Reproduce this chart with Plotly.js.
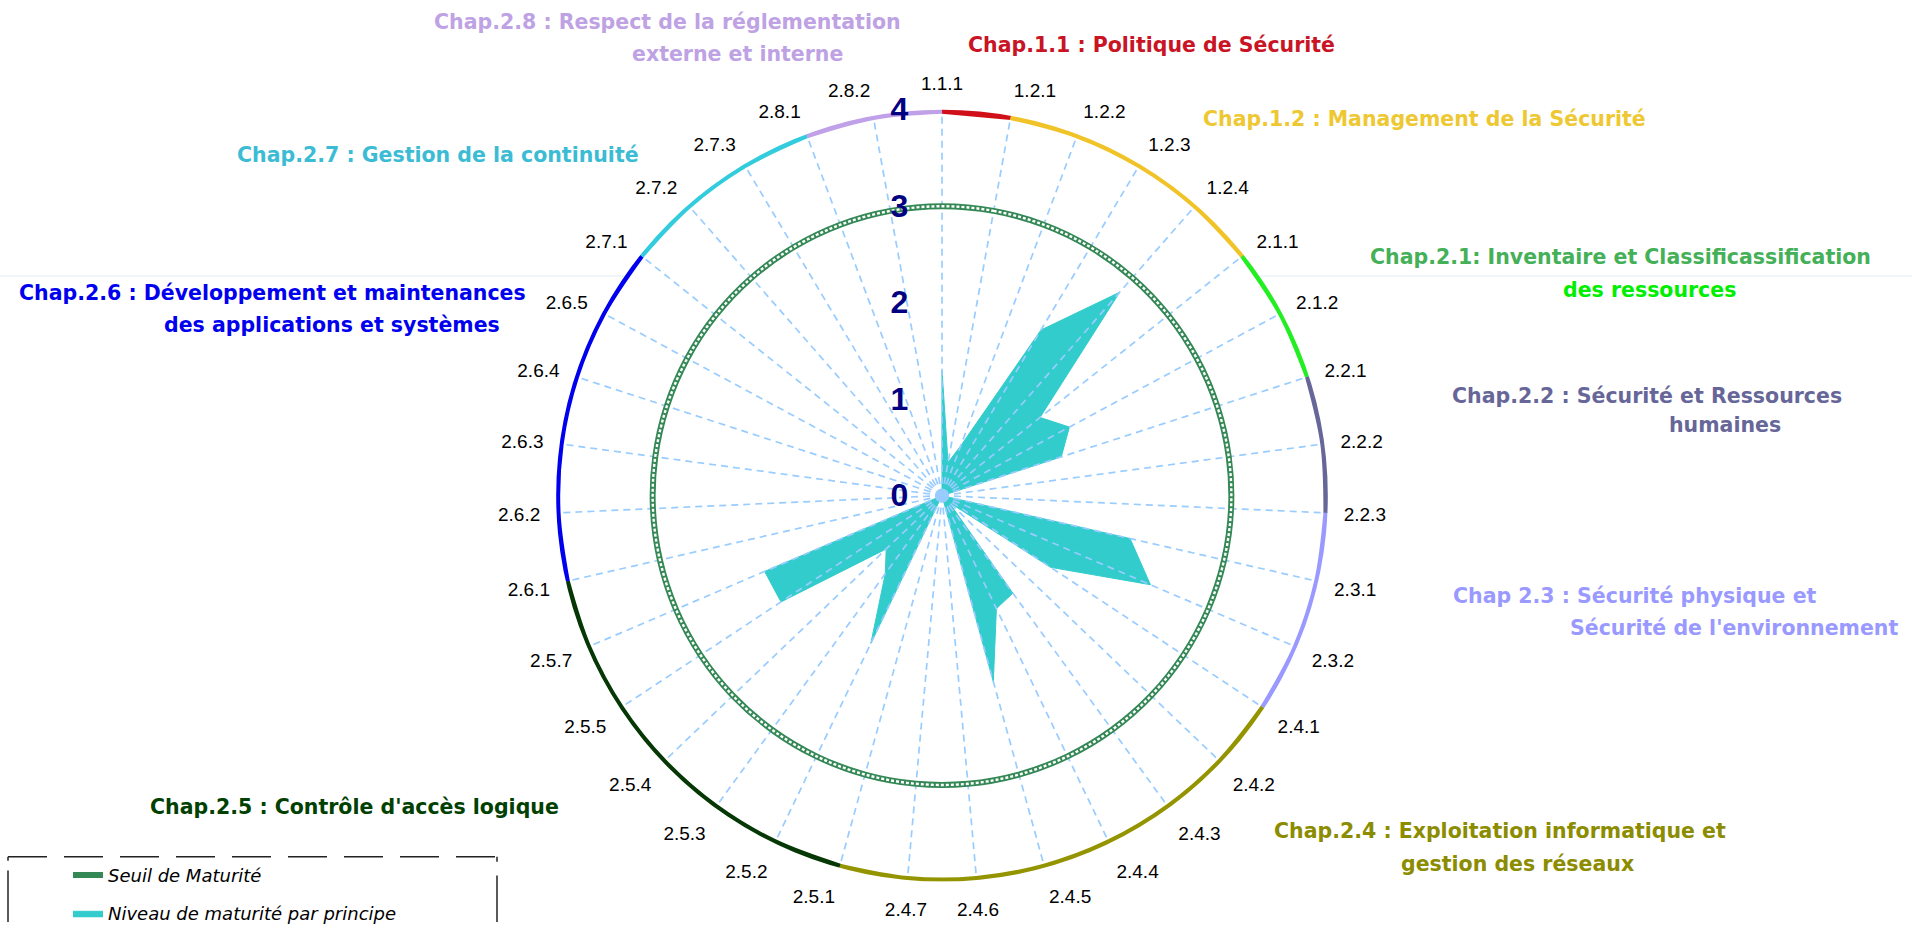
<!DOCTYPE html>
<html>
<head>
<meta charset="utf-8">
<script src="https://cdn.plot.ly/plotly-3.0.1.min.js"></script>
<style>
html,body{margin:0;padding:0;background:#ffffff;}
#chart{width:1912px;height:932px;}
</style>
</head>
<body>
<div id="chart"></div>
<script>
// ---------------- DATA ----------------
const categories = ['1.1.1','1.2.1','1.2.2','1.2.3','1.2.4','2.1.1','2.1.2','2.2.1','2.2.2','2.2.3',
  '2.3.1','2.3.2','2.4.1','2.4.2','2.4.3','2.4.4','2.4.5','2.4.6','2.4.7','2.5.1',
  '2.5.2','2.5.3','2.5.4','2.5.5','2.5.7','2.6.1','2.6.2','2.6.3','2.6.4','2.6.5',
  '2.7.1','2.7.2','2.7.3','2.8.1','2.8.2'];

// Niveau de maturité par principe
const niveau = [1.3, 0.35, 0.55, 2.0, 2.8, 1.3, 1.5, 1.3, 0, 0,
  2.0, 2.35, 1.35, 0.1, 1.25, 1.3, 2.0, 0, 0, 0,
  1.7, 1.0, 0.8, 2.0, 2.0, 0, 0, 0, 0, 0,
  0, 0, 0, 0, 0];

// Seuil de Maturité
const seuil = [3, 3, 3, 3, 3, 3, 3, 3, 3, 3,
  3, 3, 3, 3, 3, 3, 3, 3, 3, 3,
  3, 3, 3, 3, 3, 3, 3, 3, 3, 3,
  3, 3, 3, 3, 3];

const radialTicks = [0, 1, 2, 3, 4];

// chapter arcs on the outer ring (first category of each arc)
const arcStart = ['1.1.1','1.2.1','2.1.1','2.2.1','2.2.3','2.4.1','2.5.1','2.6.1','2.7.1','2.8.1'];
const arcColor = ['#d01018','#f0c428','#22ee22','#666699','#9999ff','#949400','#053805','#0000ee','#33ccdd','#c0a0e8'];

// chapter titles (text lines)
const chapterLines = [
  'Chap.2.8 : Respect de la réglementation',
  'externe et interne',
  'Chap.1.1 : Politique de Sécurité',
  'Chap.1.2 : Management de la Sécurité',
  'Chap.2.7 : Gestion de la continuité',
  'Chap.2.1: Inventaire et Classificassification',
  'des ressources',
  'Chap.2.6 : Développement et maintenances',
  'des applications et systèmes',
  'Chap.2.2 : Sécurité et Ressources',
  'humaines',
  'Chap 2.3 : Sécurité physique et',
  'Sécurité de l\'environnement',
  'Chap.2.5 : Contrôle d\'accès logique',
  'Chap.2.4 : Exploitation informatique et',
  'gestion des réseaux'
];
const seriesNames = ['Seuil de Maturité', 'Niveau de maturité par principe'];

// ---------------- LAYOUT / STYLE ----------------
const W = 1912, H = 932;
const CX = 942, CY = 501, R = 390;
const RMAX = radialTicks[radialTicks.length - 1];

const linePos = [
  [432, 22, '#bea2e4'], [630, 55, '#bea2e4'],
  [966, 45, '#c81424'],
  [1201, 120, '#eec832'],
  [235, 157, '#3cbcd4'],
  [1368, 260, '#44b058'], [1561, 293, '#00ee00'],
  [17, 296, '#0000ee'], [162, 329, '#0000ee'],
  [1450, 400, '#666699'], [1667, 430, '#666699'],
  [1451, 602, '#9999ff'], [1568, 635, '#9999ff'],
  [148, 816, '#004000'],
  [1272, 840, '#8c8c00'], [1399, 873, '#8c8c00']
];

const traces = [];

// maturity level (filled area)
traces.push({
  type: 'scatterpolar',
  name: seriesNames[1],
  theta: categories.concat([categories[0]]),
  r: niveau.concat([niveau[0]]),
  mode: 'lines',
  fill: 'toself',
  fillcolor: '#33cccc',
  line: {color: '#33cccc', width: 1},
  legendgroup: 'b', legendrank: 2,
  hoverinfo: 'skip'
});

// spokes (dashed light blue, above the filled area)
const spokeT = [], spokeR = [];
categories.forEach(c => { spokeT.push(c, c, null); spokeR.push(0, RMAX, null); });
traces.push({
  type: 'scatterpolar', theta: spokeT, r: spokeR, mode: 'lines',
  line: {color: '#99ccff', width: 1.7, dash: '7px,5px'},
  connectgaps: false, showlegend: false, hoverinfo: 'skip'
});

// threshold ring
traces.push({
  type: 'scatterpolar',
  name: seriesNames[0],
  theta: categories.concat([categories[0]]),
  r: seuil.concat([seuil[0]]),
  mode: 'lines',
  line: {color: '#338855', width: 6, shape: 'spline'},
  legendgroup: 'a', legendrank: 1,
  hoverinfo: 'skip'
});
traces.push({
  type: 'scatterpolar',
  theta: categories.concat([categories[0]]),
  r: seuil.concat([seuil[0]]),
  mode: 'lines',
  line: {color: '#ffffff', width: 2.4, shape: 'spline', dash: '3px,2px'},
  showlegend: false, hoverinfo: 'skip'
});

// outer coloured chapter arcs
const N = categories.length;
arcStart.forEach((s, i) => {
  const i0 = categories.indexOf(s);
  const i1 = (i + 1 < arcStart.length) ? categories.indexOf(arcStart[i + 1]) : N;
  const th = [];
  for (let k = i0; k <= i1; k++) th.push(categories[k % N]);
  traces.push({
    type: 'scatterpolar', theta: th, r: th.map(() => RMAX), mode: 'lines',
    line: {color: arcColor[i], width: 8, shape: 'spline'},
    showlegend: false, hoverinfo: 'skip'
  });
});

const annotations = chapterLines.map((t, i) => ({
  text: t, xref: 'paper', yref: 'paper',
  x: linePos[i][0] / W, y: 1 - linePos[i][1] / H,
  xanchor: 'left', yanchor: 'middle', showarrow: false,
  font: {family: 'DejaVu Sans, Verdana, sans-serif', size: 20.5, color: linePos[i][2], weight: 'bold'}
}));

const shapes = [
  // faint horizontal scan line
  {type: 'line', xref: 'paper', yref: 'paper', x0: 0, x1: 1, y0: 1 - 279 / H, y1: 1 - 279 / H,
   line: {color: '#e2ecf5', width: 1}, layer: 'below'},
  // legend frame
  {type: 'line', xref: 'paper', yref: 'paper', x0: 8 / W, x1: 497 / W, y0: 1 - 866 / H, y1: 1 - 866 / H,
   line: {color: '#222222', width: 1.5, dash: '39px,17px'}},
  {type: 'line', xref: 'paper', yref: 'paper', x0: 8 / W, x1: 8 / W, y0: 1 - 866 / H, y1: 1 - 870 / H,
   line: {color: '#222222', width: 1.5}},
  {type: 'line', xref: 'paper', yref: 'paper', x0: 8 / W, x1: 8 / W, y0: 1 - 880 / H, y1: 0,
   line: {color: '#222222', width: 1.5}},
  {type: 'line', xref: 'paper', yref: 'paper', x0: 497 / W, x1: 497 / W, y0: 1 - 866 / H, y1: 1 - 871 / H,
   line: {color: '#222222', width: 1.5}},
  {type: 'line', xref: 'paper', yref: 'paper', x0: 497 / W, x1: 497 / W, y0: 1 - 885 / H, y1: 0,
   line: {color: '#222222', width: 1.5}}
];

const layout = {
  width: W, height: H,
  margin: {l: 0, r: 0, t: 0, b: 0},
  paper_bgcolor: '#ffffff',
  showlegend: true,
  legend: {
    x: 68 / W, y: 1 - 866 / H, xanchor: 'left', yanchor: 'top',
    bgcolor: 'rgba(0,0,0,0)', borderwidth: 0,
    traceorder: 'grouped', tracegroupgap: 12,
    font: {family: 'DejaVu Sans, sans-serif', size: 18, style: 'italic', color: '#000000'}
  },
  polar: {
    domain: {x: [(CX - R) / W, (CX + R) / W], y: [(H - CY - R) / H, (H - CY + R) / H]},
    bgcolor: '#ffffff',
    angularaxis: {
      type: 'category', categoryorder: 'array', categoryarray: categories,
      direction: 'clockwise', rotation: 90,
      showgrid: false, showline: false,
      ticks: 'outside', ticklen: 12, tickcolor: 'rgba(0,0,0,0)',
      tickfont: {family: 'Liberation Sans, Arial, sans-serif', size: 19, color: '#000000'}
    },
    radialaxis: {
      range: [0, RMAX], tickmode: 'array', tickvals: radialTicks,
      angle: 90, side: 'counterclockwise', tickangle: 90,
      showgrid: false, showline: false,
      ticks: 'outside', ticklen: 22, tickcolor: 'rgba(0,0,0,0)',
      tickfont: {family: 'Liberation Sans, Arial, sans-serif', size: 32, color: '#000080', weight: 'bold'}
    }
  },
  annotations: annotations,
  shapes: shapes
};

Plotly.newPlot('chart', traces, layout, {displayModeBar: false, staticPlot: true});
</script>
</body>
</html>
